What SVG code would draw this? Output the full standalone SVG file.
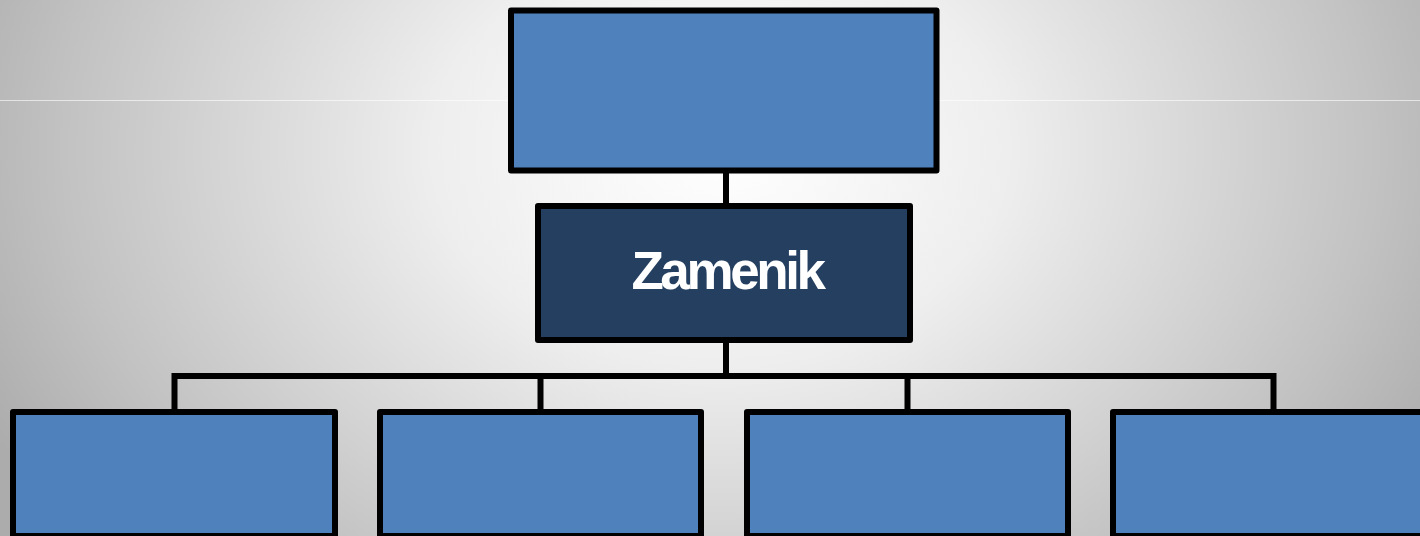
<svg xmlns="http://www.w3.org/2000/svg" width="1420" height="536" viewBox="0 0 1420 536">
  <defs>
    <radialGradient id="bg" gradientUnits="userSpaceOnUse" cx="720" cy="150" r="820" gradientTransform="translate(720 150) scale(1 0.75) translate(-720 -150)">
      <stop offset="0" stop-color="#ffffff"/>
      <stop offset="0.35" stop-color="#eeeeee"/>
      <stop offset="0.8" stop-color="#c2c2c2"/>
      <stop offset="1" stop-color="#acacac"/>
    </radialGradient>
    <style>
      .box { fill: #4F81BD; stroke: #000; stroke-width: 6; stroke-linejoin: round; }
      .dark { fill: #243F60; }
      .wire { fill: none; stroke: #000; stroke-width: 6; }
      .label { font-family: "Liberation Sans", Arial, sans-serif; font-weight: bold; font-size: 53px; fill: #ffffff; letter-spacing: -3.4px; }
    </style>
  </defs>

  <!-- backdrop -->
  <rect x="0" y="0" width="1420" height="536" fill="url(#bg)"/>
  <line x1="0" y1="100.5" x2="1420" y2="100.5" stroke="#ffffff" stroke-opacity="0.6" stroke-width="1"/>

  <!-- connectors -->
  <g id="connectors">
    <line class="wire" x1="726" y1="170" x2="726" y2="206"/>
    <line class="wire" x1="726" y1="340" x2="726" y2="376"/>
    <polyline class="wire" points="174.5,412 174.5,376 1273.5,376 1273.5,412"/>
    <line class="wire" x1="540.5" y1="376" x2="540.5" y2="412"/>
    <line class="wire" x1="907.5" y1="376" x2="907.5" y2="412"/>
  </g>

  <g id="top">
    <rect class="box" x="511" y="10.5" width="425.5" height="160"/>
  </g>

  <g id="zamenik">
    <rect class="box dark" x="538" y="206" width="372" height="134"/>
    <text class="label" x="727" y="289" text-anchor="middle">Zamenik</text>
  </g>

  <g id="child1">
    <rect class="box" x="13" y="412" width="322" height="124"/>
  </g>
  <g id="child2">
    <rect class="box" x="380" y="412" width="321" height="124"/>
  </g>
  <g id="child3">
    <rect class="box" x="747" y="412" width="321" height="124"/>
  </g>
  <g id="child4">
    <rect class="box" x="1113" y="412" width="321" height="124"/>
  </g>
</svg>
